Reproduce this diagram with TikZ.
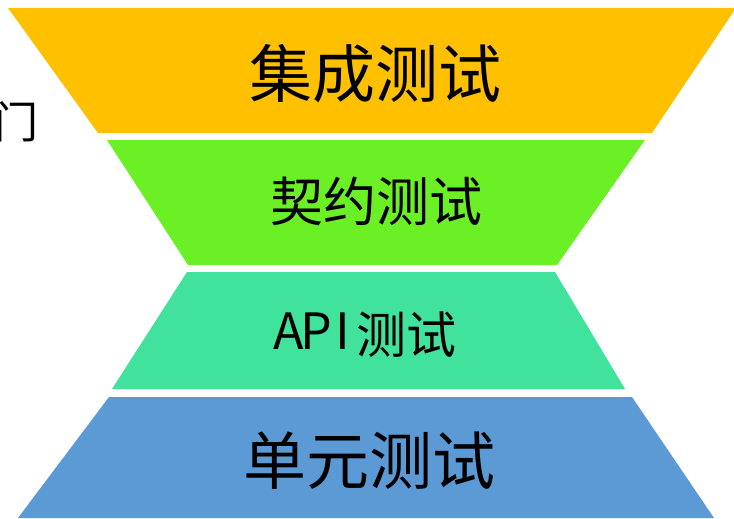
\documentclass[tikz,border=0pt]{standalone}
\usepackage{fontspec}
\setmainfont{Noto Sans CJK SC}
\newfontfamily\cjk{Noto Sans CJK SC}
\definecolor{corange}{HTML}{FFC000}
\definecolor{cgreen}{HTML}{6AF024}
\definecolor{cteal}{HTML}{41E29C}
\definecolor{cblue}{HTML}{5B9AD5}
\tikzset{
  lbl/.style={inner sep=0pt, anchor=base, text=black},
}
\begin{document}
\begin{tikzpicture}[x=1pt,y=-1pt]
\useasboundingbox (0,0) rectangle (734,519);
\fill[white] (0,0) rectangle (734,519);
% layers
\fill[corange] (8,8) -- (736,8) -- (652,133) -- (98,133) -- cycle;
\fill[cgreen] (107,140) -- (645,140) -- (557,265) -- (188,265) -- cycle;
\fill[cteal] (187,272) -- (555,272) -- (625,389) -- (112,389) -- cycle;
\fill[cblue] (109,397) -- (632,397) -- (714,518) -- (18,518) -- cycle;
% labels
\node[lbl, font=\cjk\fontsize{63}{63}\selectfont] (l1) at (375,98) {集成测试};
\node[lbl, font=\cjk\fontsize{53}{53}\selectfont] (l2) at (376,221) {契约测试};
\node[lbl, font=\cjk\fontsize{50}{50}\selectfont] (l3) at (366,353) {\raisebox{4pt}{\makebox[27pt]{A}\makebox[27pt]{P}\makebox[27pt]{I}}测试};
\node[lbl, font=\cjk\fontsize{63}{63}\selectfont] (l4) at (369,484) {单元测试};
\node[inner sep=0pt, anchor=base west, font=\cjk\fontsize{44}{44}\selectfont] (frag) at (-6,139) {门};
\end{tikzpicture}
\end{document}
